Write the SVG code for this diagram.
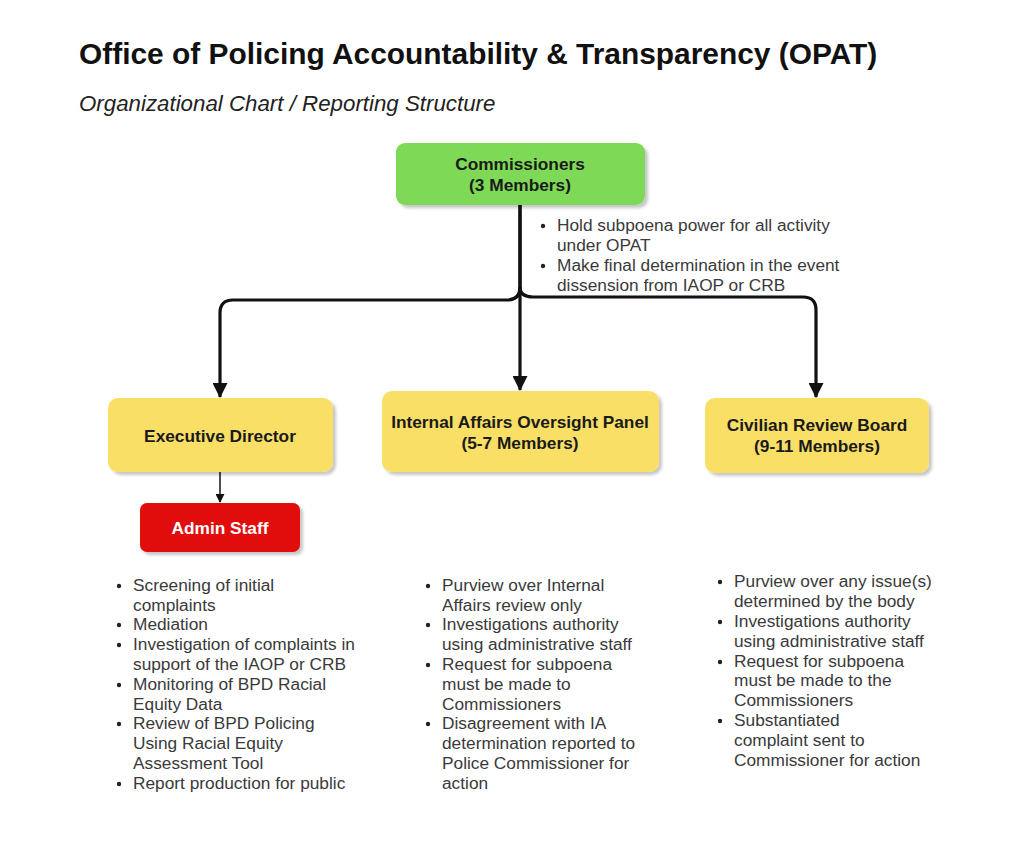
<svg xmlns="http://www.w3.org/2000/svg" width="1024" height="862" viewBox="0 0 1024 862">
<defs>
<marker id="ah" viewBox="0 0 14 14" markerWidth="15" markerHeight="15" refX="13" refY="7" orient="auto" markerUnits="userSpaceOnUse">
<path d="M0,0 L14,7 L0,14 Z" fill="#111"/>
</marker>
<marker id="ahs" viewBox="0 0 10 10" markerWidth="9" markerHeight="9" refX="9" refY="5" orient="auto" markerUnits="userSpaceOnUse">
<path d="M0,0 L10,5 L0,10 Z" fill="#111"/>
</marker>
<filter id="sh" x="-10%" y="-10%" width="130%" height="140%">
<feDropShadow dx="3" dy="3" stdDeviation="1.5" flood-color="#000" flood-opacity="0.22"/>
</filter>
</defs>
<style>
.title{font-family:"Liberation Sans",Arial,sans-serif;font-weight:bold;font-size:29.9px;fill:#111}
.sub{font-family:"Liberation Sans",Arial,sans-serif;font-style:italic;font-size:22.3px;fill:#222}
.lbl{font-family:"Liberation Sans",Arial,sans-serif;font-weight:bold;font-size:17.3px;fill:#1a1a1a;text-anchor:middle}
.wl{fill:#fff}
.li{font-family:"Liberation Sans",Arial,sans-serif;font-size:17.3px;fill:#3a3a3a}
.box{filter:url(#sh)}
.dot{fill:#222}
.conn{fill:none;stroke:#111;stroke-width:3.2}
.thin{fill:none;stroke:#222;stroke-width:1.6}
</style>
<rect width="1024" height="862" fill="#fff"/>
<text class="title" x="79" y="64">Office of Policing Accountability &amp; Transparency (OPAT)</text>
<text class="sub" x="79" y="111">Organizational Chart / Reporting Structure</text>

<g id="connectors">
<path class="conn" d="M520,205 V287 Q520,300 507,300 H233 Q220,300 220,313 V397" marker-end="url(#ah)"/>
<path class="conn" d="M520,287 Q520,297 533,297 H803 Q816,297 816,310 V397" marker-end="url(#ah)"/>
<path class="conn" d="M520,205 V390" marker-end="url(#ah)"/>
<path class="thin" d="M220,472 V502" marker-end="url(#ahs)"/>
</g>

<g id="commissioners">
<rect class="box" x="396" y="143" width="249" height="62" rx="9" fill="#7ED957"/>
<text class="lbl" x="520" y="170">Commissioners</text>
<text class="lbl" x="520" y="191">(3 Members)</text>
</g>

<g id="commissioners-notes">
<circle class="dot" cx="543" cy="226" r="2.2"/>
<text class="li" x="557" y="231">Hold subpoena power for all activity</text>
<text class="li" x="557" y="251">under OPAT</text>
<circle class="dot" cx="543" cy="266" r="2.2"/>
<text class="li" x="557" y="271">Make final determination in the event</text>
<text class="li" x="557" y="291">dissension from IAOP or CRB</text>
</g>

<g id="executive-director">
<rect class="box" x="108" y="398" width="225" height="74" rx="10" fill="#F9DF66"/>
<text class="lbl" x="220" y="442">Executive Director</text>
</g>

<g id="admin-staff">
<rect class="box" x="140" y="503" width="160" height="49" rx="7" fill="#E10A0A"/>
<text class="lbl wl" x="220" y="534">Admin Staff</text>
</g>

<g id="iaop">
<rect class="box" x="382" y="391" width="277" height="81" rx="10" fill="#F9DF66"/>
<text class="lbl" x="520" y="428">Internal Affairs Oversight Panel</text>
<text class="lbl" x="520" y="449">(5-7 Members)</text>
</g>

<g id="crb">
<rect class="box" x="705" y="398" width="224" height="75" rx="10" fill="#F9DF66"/>
<text class="lbl" x="817" y="431">Civilian Review Board</text>
<text class="lbl" x="817" y="452">(9-11 Members)</text>
</g>

<g id="ed-duties">
<circle class="dot" cx="119" cy="586" r="2.2"/>
<text class="li" x="133" y="591">Screening of initial</text>
<text class="li" x="133" y="611">complaints</text>
<circle class="dot" cx="119" cy="625" r="2.2"/>
<text class="li" x="133" y="630">Mediation</text>
<circle class="dot" cx="119" cy="645" r="2.2"/>
<text class="li" x="133" y="650">Investigation of complaints in</text>
<text class="li" x="133" y="670">support of the IAOP or CRB</text>
<circle class="dot" cx="119" cy="685" r="2.2"/>
<text class="li" x="133" y="690">Monitoring of BPD Racial</text>
<text class="li" x="133" y="710">Equity Data</text>
<circle class="dot" cx="119" cy="724" r="2.2"/>
<text class="li" x="133" y="729">Review of BPD Policing</text>
<text class="li" x="133" y="749">Using Racial Equity</text>
<text class="li" x="133" y="769">Assessment Tool</text>
<circle class="dot" cx="119" cy="784" r="2.2"/>
<text class="li" x="133" y="789">Report production for public</text>
</g>

<g id="iaop-duties">
<circle class="dot" cx="428" cy="586" r="2.2"/>
<text class="li" x="442" y="591">Purview over Internal</text>
<text class="li" x="442" y="611">Affairs review only</text>
<circle class="dot" cx="428" cy="625" r="2.2"/>
<text class="li" x="442" y="630">Investigations authority</text>
<text class="li" x="442" y="650">using administrative staff</text>
<circle class="dot" cx="428" cy="665" r="2.2"/>
<text class="li" x="442" y="670">Request for subpoena</text>
<text class="li" x="442" y="690">must be made to</text>
<text class="li" x="442" y="710">Commissioners</text>
<circle class="dot" cx="428" cy="724" r="2.2"/>
<text class="li" x="442" y="729">Disagreement with IA</text>
<text class="li" x="442" y="749">determination reported to</text>
<text class="li" x="442" y="769">Police Commissioner for</text>
<text class="li" x="442" y="789">action</text>
</g>

<g id="crb-duties">
<circle class="dot" cx="720" cy="582" r="2.2"/>
<text class="li" x="734" y="587">Purview over any issue(s)</text>
<text class="li" x="734" y="607">determined by the body</text>
<circle class="dot" cx="720" cy="622" r="2.2"/>
<text class="li" x="734" y="627">Investigations authority</text>
<text class="li" x="734" y="647">using administrative staff</text>
<circle class="dot" cx="720" cy="662" r="2.2"/>
<text class="li" x="734" y="667">Request for subpoena</text>
<text class="li" x="734" y="686">must be made to the</text>
<text class="li" x="734" y="706">Commissioners</text>
<circle class="dot" cx="720" cy="721" r="2.2"/>
<text class="li" x="734" y="726">Substantiated</text>
<text class="li" x="734" y="746">complaint sent to</text>
<text class="li" x="734" y="766">Commissioner for action</text>
</g>
</svg>
